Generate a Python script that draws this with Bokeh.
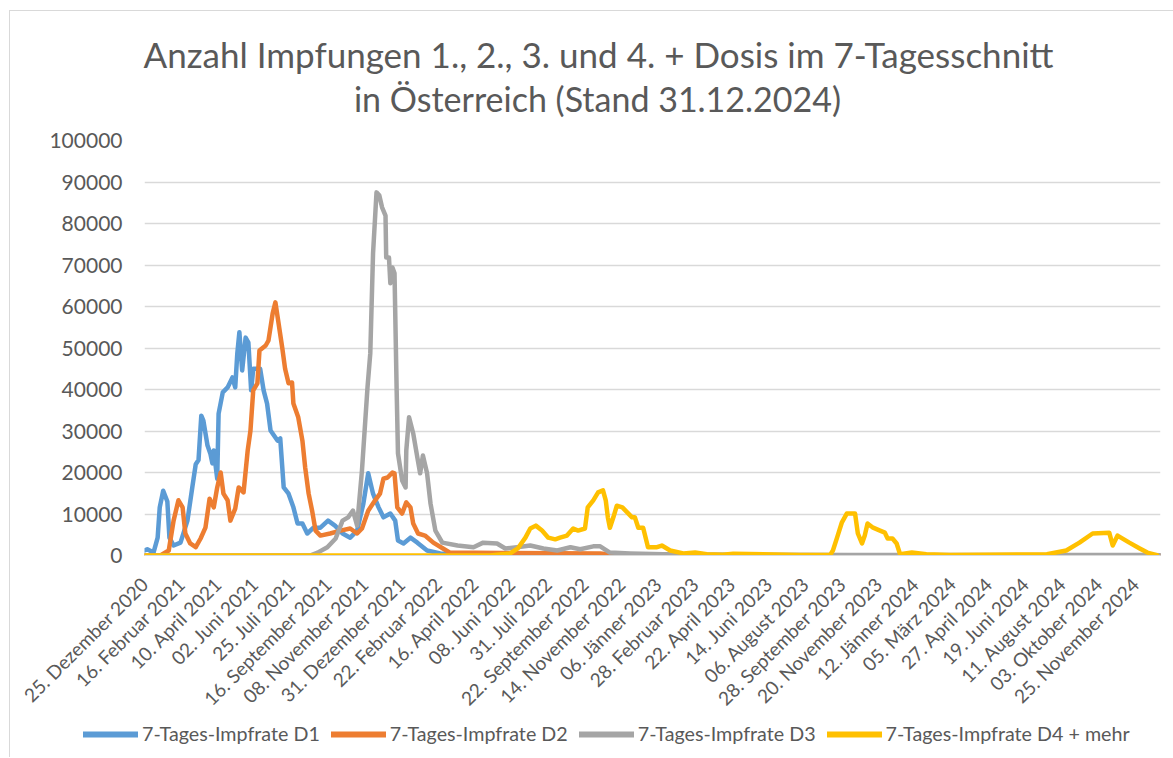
from bokeh.plotting import figure
from bokeh.models import Range1d, FixedTicker, Legend, LegendItem
from bokeh.layouts import column
from bokeh.core.properties import value
from bokeh.embed import file_html
from bokeh.resources import INLINE

# ---------------- data ----------------
# x = days since 25. Dezember 2020, labels every 53 days (Excel category axis)
x_labels = ["25. Dezember 2020", "16. Februar 2021", "10. April 2021", "02. Juni 2021",
            "25. Juli 2021", "16. September 2021", "08. November 2021", "31. Dezember 2021",
            "22. Februar 2022", "16. April 2022", "08. Juni 2022", "31. Juli 2022",
            "22. September 2022", "14. November 2022", "06. Jänner 2023", "28. Februar 2023",
            "22. April 2023", "14. Juni 2023", "06. August 2023", "28. September 2023",
            "20. November 2023", "12. Jänner 2024", "05. März 2024", "27. April 2024",
            "19. Juni 2024", "11. August 2024", "03. Oktober 2024", "25. November 2024"]
label_step = 53
total_days = 1467
y_ticks = [0, 10000, 20000, 30000, 40000, 50000, 60000, 70000, 80000, 90000, 100000]

series_names = ["7-Tages-Impfrate D1", "7-Tages-Impfrate D2",
                "7-Tages-Impfrate D3", "7-Tages-Impfrate D4 + mehr"]
series_colors = ["#5B9BD5", "#ED7D31", "#A5A5A5", "#FFC000"]

d1_day = [0, 4, 13, 19, 22, 27, 33, 36, 42, 52, 62, 69, 74, 78, 82, 85, 91, 95, 98, 100,
          105, 107, 113, 120, 127, 131, 134, 137, 141, 146, 150, 154, 157, 167, 172, 177,
          182, 192, 196, 201, 208, 215, 221, 228, 235, 244, 254, 265, 275, 286, 297, 307,
          316, 323, 330, 338, 345, 355, 362, 366, 374, 384, 394, 408, 427, 470, 542, 700,
          1000, 1300, 1466]
d1_val = [1200, 1500, 700, 4300, 11600, 15600, 13000, 4300, 2400, 3100, 8400, 16400, 22000,
          23000, 33700, 32500, 26500, 24600, 22200, 25300, 18500, 34200, 39300, 40500, 42900,
          40500, 48700, 53800, 44600, 52500, 51300, 39800, 45000, 45000, 39800, 36600, 30100,
          27700, 28200, 16400, 14900, 11600, 7700, 7700, 5300, 6700, 6700, 8400, 7200, 5300,
          4300, 6000, 12500, 19800, 14900, 11600, 9200, 10100, 8400, 3600, 2900, 4300, 3100,
          1200, 500, 200, 100, 50, 50, 50, 50]

d2_day = [0, 23, 35, 42, 49, 55, 59, 66, 74, 81, 88, 94, 100, 105, 110, 114, 120, 124, 131,
          136, 143, 149, 153, 157, 163, 166, 175, 179, 185, 189, 193, 199, 203, 208, 213, 215,
          222, 228, 232, 237, 242, 247, 254, 268, 283, 297, 307, 314, 323, 333, 340, 345, 351,
          358, 361, 365, 372, 378, 384, 388, 395, 405, 417, 431, 441, 514, 658, 679, 802, 1466]
d2_val = [0, 0, 1200, 8400, 13300, 11600, 5300, 2900, 2000, 4100, 6700, 13700, 11600, 16400,
          20000, 14900, 13300, 8400, 11300, 16400, 15200, 25300, 30100, 39800, 41500, 49400,
          50600, 51800, 58300, 61000, 56600, 49900, 45000, 41500, 41700, 36600, 33300, 27700,
          21200, 14900, 10800, 6000, 4800, 5300, 6000, 6500, 5300, 6500, 10800, 13300, 14900,
          18500, 18800, 20000, 19800, 11600, 10100, 12800, 11600, 7700, 5300, 4800, 3100, 1700,
          700, 600, 500, 100, 0, 0]

d3_day = [0, 239, 250, 264, 276, 286, 294, 301, 307, 314, 322, 326, 330, 335, 339, 343, 348,
          349, 353, 355, 358, 361, 364, 366, 372, 377, 378, 382, 388, 394, 398, 402, 408, 413,
          420, 430, 452, 475, 489, 509, 521, 538, 557, 576, 596, 615, 629, 648, 658, 672, 701,
          749, 874, 1018, 1235, 1451, 1466]
d3_val = [0, 0, 700, 2000, 4100, 8400, 9200, 10800, 7200, 20500, 40500, 48700, 72800, 87500,
          86800, 83900, 81900, 71800, 71800, 65600, 69400, 68000, 40500, 24600, 18100, 16400,
          25300, 33300, 29400, 23600, 19800, 24100, 19800, 12500, 6000, 3100, 2400, 2000, 3100,
          2900, 1700, 2000, 2400, 1700, 1200, 2000, 1500, 2200, 2200, 700, 500, 300, 200, 100,
          100, 100, 50]

d4_day = [0, 499, 509, 528, 539, 550, 557, 565, 574, 583, 593, 600, 610, 619, 626, 636, 640,
          648, 655, 662, 666, 669, 672, 677, 682, 690, 697, 704, 708, 713, 720, 727, 740, 747,
          759, 778, 795, 812, 835, 850, 946, 990, 994, 1000, 1007, 1014, 1026, 1030, 1036,
          1040, 1044, 1052, 1062, 1069, 1073, 1080, 1086, 1091, 1108, 1129, 1163, 1303, 1331,
          1350, 1369, 1393, 1398, 1405, 1422, 1437, 1448, 1462]
d4_val = [0, 0, 200, 500, 1700, 4300, 6500, 7200, 6000, 4300, 3900, 4300, 4800, 6500, 6000,
          6500, 11600, 13300, 15200, 15700, 13300, 9200, 6700, 9200, 12000, 11600, 10400, 9200,
          9200, 6700, 6700, 2000, 2000, 2400, 1200, 500, 700, 300, 200, 400, 150, 150, 1200,
          4300, 8000, 10100, 10100, 5300, 2900, 4800, 7700, 6700, 6000, 5500, 4100, 4100, 2900,
          300, 700, 300, 150, 300, 1200, 3100, 5300, 5500, 2400, 4800, 3100, 1700, 700, 100]

series_days = [d1_day, d2_day, d3_day, d4_day]
series_vals = [d1_val, d2_val, d3_val, d4_val]

title_line1 = "Anzahl Impfungen 1., 2., 3. und 4. +  Dosis im  7-Tagesschnitt"
title_line2 = "in Österreich (Stand 31.12.2024)"

# ---------------- layout constants ----------------
TXT = "#595959"
FONT = "Lato"
W = 1163
H_TITLE, H_MAIN, H_LEG = 115, 594, 37
BORDER = "1px solid #D9D9D9"


def bare(fig):
    fig.outline_line_color = None
    fig.background_fill_color = "white"
    fig.border_fill_color = "white"
    fig.axis.visible = False
    fig.grid.visible = False


def strip(h, xr, yr):
    return figure(width=W, height=h, output_backend="svg", toolbar_location=None,
                  x_range=xr, y_range=yr, min_border=0, min_border_left=0,
                  min_border_right=0, min_border_top=0, min_border_bottom=0)


# ---------------- title strip ----------------
t = strip(H_TITLE, Range1d(0, W), Range1d(H_TITLE, 0))
bare(t)
t.text(x=[597], y=[42], text=[title_line1], text_align="center", text_baseline="middle",
       text_font=value(FONT), text_font_size="35px", text_color=TXT)
t.text(x=[587], y=[87], text=[title_line2], text_align="center", text_baseline="middle",
       text_font=value(FONT), text_font_size="34px", text_color=TXT)

# ---------------- main chart ----------------
p = figure(width=W, height=H_MAIN, output_backend="svg", toolbar_location=None,
           x_range=Range1d(0, total_days), y_range=Range1d(0, 100000),
           min_border_left=134, min_border_right=13, min_border_top=14, min_border_bottom=165)
p.outline_line_color = None
p.background_fill_color = "white"
p.border_fill_color = "white"

tick_pos = [i * label_step for i in range(len(x_labels))]
p.xaxis.ticker = FixedTicker(ticks=tick_pos)
p.xaxis.major_label_overrides = {t_: lab for t_, lab in zip(tick_pos, x_labels)}
p.xaxis.major_label_orientation = 0.785398
p.xaxis.major_label_text_font = FONT
p.xaxis.major_label_text_font_size = "19px"
p.xaxis.major_label_text_color = TXT
p.xaxis.major_label_standoff = 25
p.xaxis.major_tick_out = 0
p.xaxis.major_tick_in = 0
p.xaxis.axis_line_color = "#D9D9D9"
p.xaxis.major_tick_line_color = None
p.xaxis.minor_tick_line_color = None

p.yaxis.ticker = FixedTicker(ticks=y_ticks)
p.yaxis.major_label_overrides = {t_: str(t_) for t_ in y_ticks}
p.yaxis.major_label_text_font = FONT
p.yaxis.major_label_text_font_size = "21px"
p.yaxis.major_label_text_color = TXT
p.yaxis.major_label_standoff = 22
p.yaxis.major_tick_out = 0
p.yaxis.major_tick_in = 0
p.yaxis.axis_line_color = None
p.yaxis.major_tick_line_color = None
p.yaxis.minor_tick_line_color = None

p.xgrid.grid_line_color = None
p.ygrid.grid_line_color = "#D9D9D9"
p.ygrid.grid_line_width = 1.5

for col, xs, ys in zip(series_colors, series_days, series_vals):
    p.line(xs, ys, line_color=col, line_width=4.5, line_join="round", line_cap="round")

# ---------------- legend strip ----------------
lg = strip(H_LEG, Range1d(0, 1), Range1d(0, 1))
bare(lg)
items = []
for name, col in zip(series_names, series_colors):
    # off-range stub so the legend swatch has a line to draw; nothing appears in the strip
    r = lg.line(x=[-2, -1], y=[-2, -1], line_color=col, line_width=6, line_cap="round")
    items.append(LegendItem(label=name, renderers=[r]))
legend = Legend(items=items, orientation="horizontal", location=(73, 12),
                border_line_color=None, background_fill_alpha=0,
                label_text_font=FONT, label_text_font_size="19.7px", label_text_color=TXT,
                glyph_width=55, glyph_height=22, spacing=11, label_standoff=4,
                padding=0, margin=0)
lg.add_layout(legend)

# each strip is its own root so that Bokeh does not align their frames
roots = [
    column(t, styles={"margin-left": "9px", "margin-top": "10px",
                      "border-left": BORDER, "border-top": BORDER}),
    column(p, styles={"margin-left": "9px", "border-left": BORDER}),
    column(lg, styles={"margin-left": "9px", "border-left": BORDER}),
]

open("out.html", "w").write(file_html(roots, INLINE))
